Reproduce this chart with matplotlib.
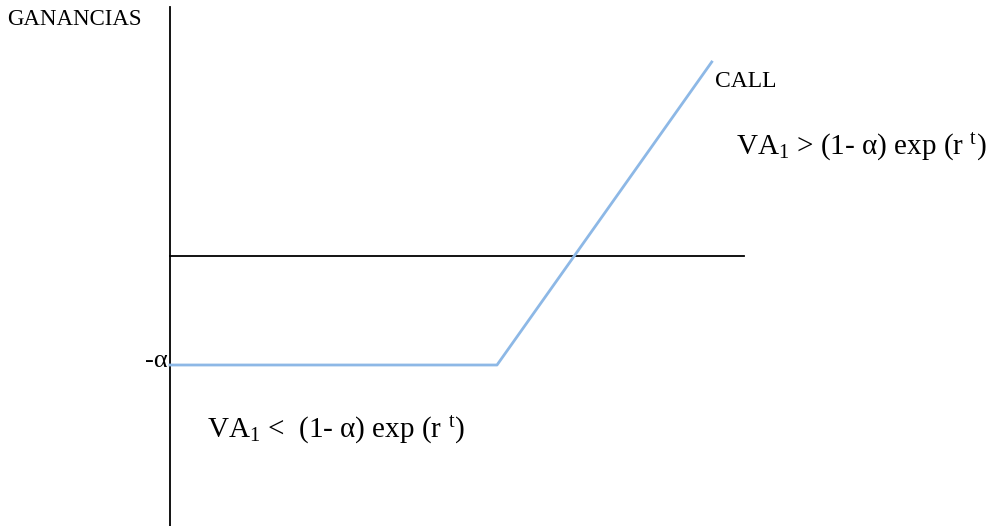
import matplotlib
matplotlib.use('Agg')
import matplotlib.pyplot as plt

# call payoff: premium paid (alpha = 1) below strike, rising above it
precio = [0.0, 3.0, 4.97]
ganancia = [-1.0, -1.0, 1.78]
prima = 1.0

plt.rcParams['font.family'] = ['Liberation Serif', 'DejaVu Serif']
plt.rcParams['mathtext.fontset'] = 'custom'
plt.rcParams['mathtext.rm'] = 'Liberation Serif'
plt.rcParams['mathtext.it'] = 'Liberation Serif:italic'

fig = plt.figure(figsize=(9.92, 5.26), dpi=100)
ax = fig.add_axes([0, 0, 1, 1])
ax.set_xlim(-170 / 109, 822 / 109)
ax.set_ylim(-270 / 109, 256 / 109)
ax.axis('off')

# axes drawn by hand
ax.plot([0, 0], [-2.5, 2.28], color='black', lw=1.3)
ax.plot([0, 5.27], [0, 0], color='black', lw=1.3)

ax.plot(precio, ganancia, color='#8db8e6', lw=2)

ax.text(-1.49, 2.17, 'GANANCIAS', fontsize=16.5, va='center', ha='left')
ax.text(-0.02, -prima + 0.04, '-α', fontsize=19, va='center', ha='right')
ax.text(5.0, 1.6, 'CALL', fontsize=17, va='center', ha='left')
ax.text(5.19, 1.0, r'VA$_{\mathrm{1}}$ > (1- α) exp (r ${}^{\mathrm{t}}$)',
        fontsize=21, va='center', ha='left')
ax.text(0.34, -1.6, r'VA$_{\mathrm{1}}$ <  (1- α) exp (r ${}^{\mathrm{t}}$)',
        fontsize=21, va='center', ha='left')

fig.savefig('out.png', dpi=100)
